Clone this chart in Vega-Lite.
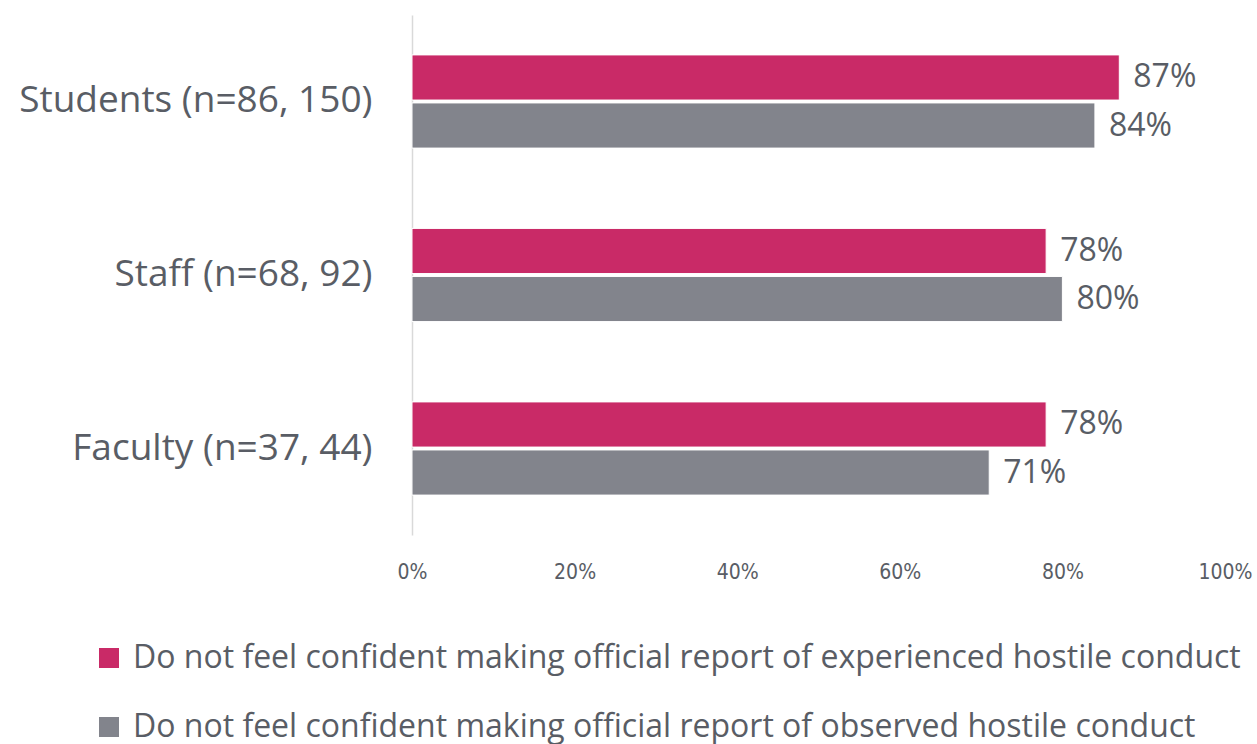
{
  "$schema": "https://vega.github.io/schema/vega-lite/v6.json",
  "width": 813,
  "height": 520,
  "autosize": "none",
  "padding": {"left": 412, "top": 15, "right": 32, "bottom": 209},
  "background": "white",
  "config": {
    "view": {"stroke": null},
    "font": "Open Sans",
    "text": {"font": "Open Sans"}
  },
  "data": {
    "values": [
      {"group": "Students (n=86, 150)", "series": "Do not feel confident making official report of experienced hostile conduct", "value": 0.87},
      {"group": "Students (n=86, 150)", "series": "Do not feel confident making official report of observed hostile conduct", "value": 0.84},
      {"group": "Staff (n=68, 92)", "series": "Do not feel confident making official report of experienced hostile conduct", "value": 0.78},
      {"group": "Staff (n=68, 92)", "series": "Do not feel confident making official report of observed hostile conduct", "value": 0.80},
      {"group": "Faculty (n=37, 44)", "series": "Do not feel confident making official report of experienced hostile conduct", "value": 0.78},
      {"group": "Faculty (n=37, 44)", "series": "Do not feel confident making official report of observed hostile conduct", "value": 0.71}
    ]
  },
  "encoding": {
    "y": {
      "field": "group",
      "type": "nominal",
      "sort": ["Students (n=86, 150)", "Staff (n=68, 92)", "Faculty (n=37, 44)"],
      "scale": {"paddingInner": 0.463, "paddingOuter": 0.23},
      "axis": {
        "title": null,
        "ticks": false,
        "domainColor": "#D9D9D9",
        "domainWidth": 1.5,
        "labelFontSize": 37,
        "labelFont": "Open Sans",
        "labelFontWeight": 400,
        "labelColor": "#595D65",
        "labelPadding": 40,
        "labelLimit": 420
      }
    },
    "yOffset": {
      "field": "series",
      "type": "nominal",
      "sort": ["Do not feel confident making official report of experienced hostile conduct", "Do not feel confident making official report of observed hostile conduct"],
      "scale": {"paddingInner": 0.06}
    },
    "x": {
      "field": "value",
      "type": "quantitative",
      "scale": {"domain": [0, 1]},
      "axis": {
        "title": null,
        "format": ".0%",
        "values": [0, 0.2, 0.4, 0.6, 0.8, 1],
        "grid": false,
        "domain": false,
        "ticks": false,
        "labelFont": "DejaVu Sans Condensed",
        "labelFontSize": 21,
        "labelColor": "#595D65",
        "labelPadding": 26,
        "labelFlush": false
      }
    }
  },
  "layer": [
    {
      "mark": {"type": "bar", "stroke": "white", "strokeWidth": 1},
      "encoding": {
        "color": {
          "field": "series",
          "type": "nominal",
          "sort": ["Do not feel confident making official report of experienced hostile conduct", "Do not feel confident making official report of observed hostile conduct"],
          "scale": {"range": ["#C92A67", "#82848C"]},
          "legend": {
            "title": null,
            "orient": "none",
            "legendX": -319,
            "legendY": 627,
            "direction": "vertical",
            "symbolType": "square",
            "symbolSize": 400,
            "symbolStrokeWidth": 0,
            "labelFontSize": 32,
            "labelFont": "Open Sans",
            "labelFontWeight": 400,
            "labelColor": "#595D65",
            "labelLimit": 1200,
            "labelOffset": 8,
            "rowPadding": 37
          }
        }
      }
    },
    {
      "mark": {"type": "text", "align": "left", "baseline": "middle", "dx": 14, "fontSize": 32, "fontWeight": 400, "color": "#595D65"},
      "encoding": {
        "text": {"field": "value", "type": "quantitative", "format": ".0%"}
      }
    }
  ]
}
